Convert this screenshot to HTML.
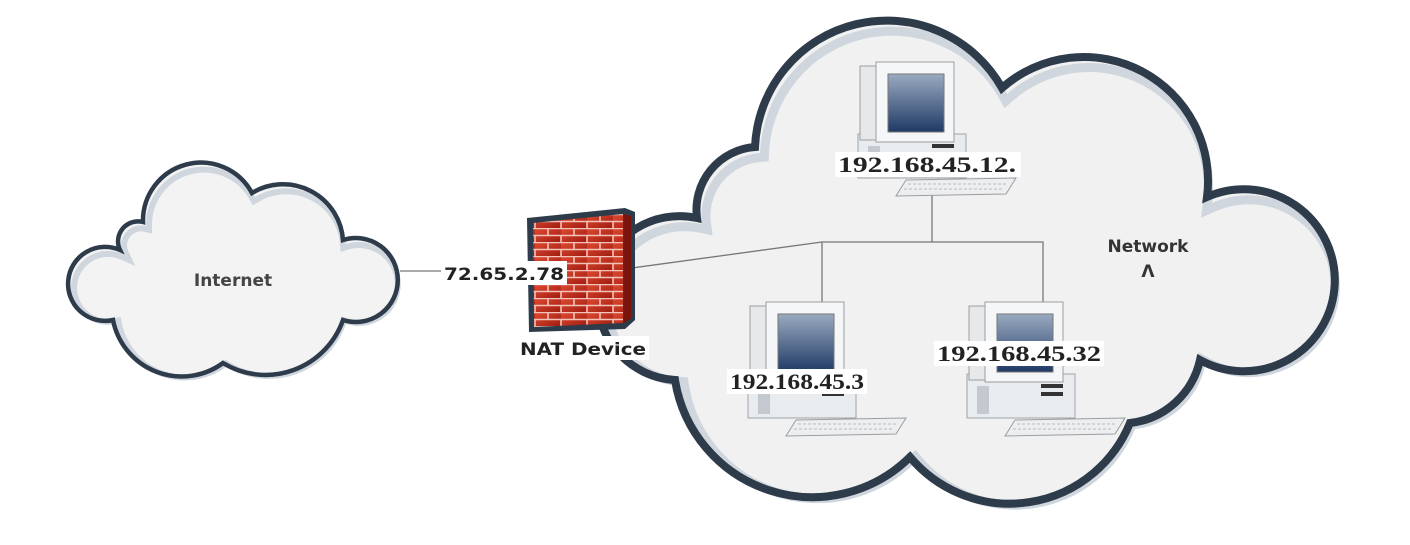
<!DOCTYPE html>
<html><head><meta charset="utf-8"><style>
body{margin:0;background:#fff;}
svg{display:block;}
text{font-weight:bold;}
.s{font-family:"DejaVu Sans","Liberation Sans",sans-serif;}
.r{font-family:"Liberation Serif","DejaVu Serif",serif;}
</style></head><body>
<svg width="1410" height="545" viewBox="0 0 1410 545" xmlns="http://www.w3.org/2000/svg">
<defs>
<linearGradient id="scr" x1="0" y1="0" x2="0" y2="1"><stop offset="0" stop-color="#9aaac0"/><stop offset="1" stop-color="#1f3a66"/></linearGradient>
<linearGradient id="brick" x1="0" y1="0" x2="1" y2="1"><stop offset="0" stop-color="#e04a32"/><stop offset="1" stop-color="#a01c10"/></linearGradient>
<pattern id="bp" x="535" y="214" width="26" height="14" patternUnits="userSpaceOnUse">
<rect width="26" height="14" fill="url(#brick)"/>
<path d="M0 0.5H26M0 7.5H26M13 0V7M0 7V14M26 7V14" stroke="#f3c2b8" stroke-width="1.6"/>
</pattern>
<path id="big" d="M697 218 A63 63 0 0 1 755 147 A132 132 0 0 1 1002 88 A124 124 0 0 1 1207 197 A91 91 0 1 1 1200 360 A81 81 0 0 1 1130 423 A130 130 0 0 1 910 457 A139 139 0 0 1 675 380 A82 82 0 1 1 697 218 Z"/>
<path id="small" d="M143 222 A58 58 0 0 1 252 193 A60 60 0 0 1 343 240 A42 42 0 1 1 343 320 A82 82 0 0 1 223 363 A70 70 0 0 1 113 320 A37 37 0 1 1 120 250 A20 20 0 0 1 143 222 Z"/>
<clipPath id="cb"><use href="#big"/></clipPath>
<clipPath id="cs"><use href="#small"/></clipPath>
<g id="pc">
<rect x="10" y="72" width="108" height="44" fill="#e9ecef" stroke="#a0a4a8"/>
<rect x="20" y="84" width="12" height="28" fill="#c3c9cf"/>
<rect x="84" y="82" width="22" height="4" fill="#333"/>
<rect x="84" y="90" width="22" height="4" fill="#333"/>
<rect x="12" y="4" width="60" height="74" fill="#e6e8ea" stroke="#9a9ea2"/>
<rect x="28" y="0" width="78" height="80" fill="#f5f6f7" stroke="#9a9ea2"/>
<rect x="40" y="12" width="56" height="58" fill="url(#scr)" stroke="#777"/>
<polygon points="58,118 168,116 158,132 48,134" fill="#eceef0" stroke="#9a9ea2"/>
<path d="M60 122H158M56 127H155" stroke="#b8bcc0" stroke-dasharray="3 2"/>
</g>
</defs>
<!-- internet cloud -->
<use href="#small" fill="#f3f3f3"/>
<use href="#small" fill="none" stroke="#cfd6de" stroke-width="12" clip-path="url(#cs)" transform="translate(3,4)"/>
<use href="#small" fill="none" stroke="#2d3b4b" stroke-width="4.5"/>
<text class="s" x="233" y="286" font-size="17" fill="#444" text-anchor="middle">Internet</text>
<!-- big cloud -->
<use href="#big" fill="#f1f1f1"/>
<use href="#big" fill="none" stroke="#cfd6de" stroke-width="18" clip-path="url(#cb)" transform="translate(5,6)"/>
<use href="#big" fill="none" stroke="#2d3b4b" stroke-width="8"/>
<text class="s" x="1148" y="252" font-size="17" fill="#333" text-anchor="middle">Network</text>
<text class="s" x="1148" y="277" font-size="17" fill="#333" text-anchor="middle">Λ</text>
<!-- lines -->
<g stroke="#777" stroke-width="1.3" fill="none">
<line x1="400" y1="271" x2="535" y2="271"/>
<line x1="632" y1="268" x2="822" y2="242"/>
<polyline points="932,190 932,242"/>
<polyline points="822,302 822,242 1043,242 1043,302"/>
</g>
<!-- firewall -->
<polygon points="527,218 625,208 635,212 635,320 625,329 529,332" fill="#2d3b4b"/>
<polygon points="533,223 623,214 623,323 534,327" fill="url(#bp)"/>
<polygon points="624,214 631,216 631,318 624,323" fill="#7a140c"/>
<!-- computers -->
<use href="#pc" transform="translate(848,62)"/>
<use href="#pc" transform="translate(738,302)"/>
<use href="#pc" transform="translate(957,302)"/>
<!-- labels -->
<g fill="#222">
<rect x="441" y="261" width="126" height="24" fill="#fff"/>
<text class="s" x="444" y="280" font-size="17" textLength="120" lengthAdjust="spacingAndGlyphs">72.65.2.78</text>
<rect x="517" y="336" width="132" height="24" fill="#fff"/>
<text class="s" x="520" y="355" font-size="17" textLength="126" lengthAdjust="spacingAndGlyphs">NAT Device</text>
<rect x="835" y="152" width="186" height="25" fill="#fff"/>
<text class="r" x="838" y="172" font-size="22" textLength="178" lengthAdjust="spacingAndGlyphs">192.168.45.12.</text>
<rect x="727" y="369" width="140" height="25" fill="#fff"/>
<text class="r" x="730" y="389" font-size="22" textLength="134" lengthAdjust="spacingAndGlyphs">192.168.45.3</text>
<rect x="934" y="341" width="170" height="25" fill="#fff"/>
<text class="r" x="937" y="361" font-size="22" textLength="164" lengthAdjust="spacingAndGlyphs">192.168.45.32</text>
</g>
</svg>
</body></html>
